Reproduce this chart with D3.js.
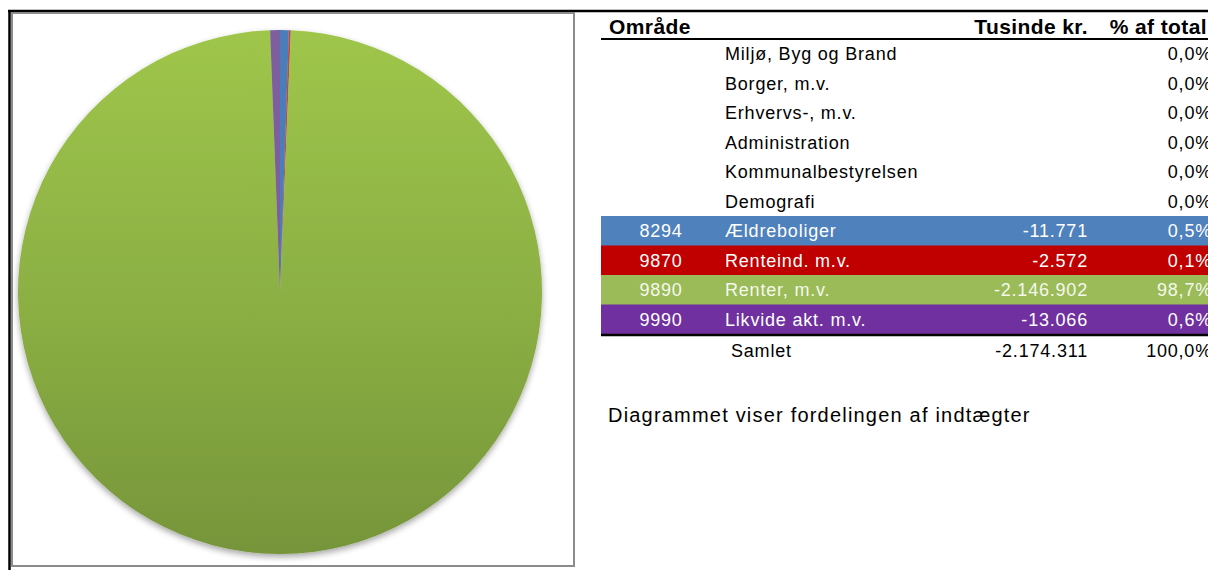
<!DOCTYPE html>
<html>
<head>
<meta charset="utf-8">
<script src="https://cdn.jsdelivr.net/npm/d3@7"></script>
<style>
  body { margin: 0; background: #fff; }
  text { font-family: "Liberation Sans", Arial, sans-serif; }
</style>
</head>
<body>
<div id="chart"></div>
<script>
// data
const codes = ["", "", "", "", "", "", "8294", "9870", "9890", "9990"]
const names = ["Miljø, Byg og Brand", "Borger, m.v.", "Erhvervs-, m.v.", "Administration",
  "Kommunalbestyrelsen", "Demografi", "Ældreboliger", "Renteind. m.v.", "Renter, m.v.", "Likvide akt. m.v."]
const values = [0, 0, 0, 0, 0, 0, -11771, -2572, -2146902, -13066]
const headers = ["Område", "Tusinde kr.", "% af total"]
const totalLabel = "Samlet"
const caption = "Diagrammet viser fordelingen af indtægter"

const rowColors = ["", "", "", "", "", "", "#4f81bd", "#c00000", "#9bbb59", "#7030a0"]
const pieColors = ["", "", "", "", "", "", "#4a7ebb", "#be4b48", "#98b954", "#7d5fa0"]

const width = 1208, height = 570
const locale = d3.formatLocale({ decimal: ",", thousands: ".", grouping: [3], currency: ["", ""], minus: "-" })
const fmtNum = locale.format(",.0f")
const fmtPct = locale.format(".1%")

const total = d3.sum(values)

const svg = d3.select("#chart").append("svg")
  .attr("width", width)
  .attr("height", height)

const defs = svg.append("defs")
const grad = defs.append("linearGradient")
  .attr("id", "greenGrad")
  .attr("x1", 0).attr("y1", 0).attr("x2", 0).attr("y2", 1)
grad.append("stop").attr("offset", "0%").attr("stop-color", "#9fc64b")
grad.append("stop").attr("offset", "55%").attr("stop-color", "#8aae43")
grad.append("stop").attr("offset", "100%").attr("stop-color", "#76953a")

const shadow = defs.append("filter").attr("id", "shadow")
  .attr("x", "-10%").attr("y", "-10%").attr("width", "120%").attr("height", "120%")
shadow.append("feDropShadow")
  .attr("dx", 0).attr("dy", 3).attr("stdDeviation", 3)
  .attr("flood-color", "#000").attr("flood-opacity", 0.35)

// frame lines
svg.append("line").attr("x1", 8).attr("x2", width).attr("y1", 11).attr("y2", 11)
  .attr("stroke", "#000").attr("stroke-width", 2.5)
svg.append("line").attr("x1", 9.5).attr("x2", 9.5).attr("y1", 10).attr("y2", height)
  .attr("stroke", "#000").attr("stroke-width", 2.5)

// chart box
svg.append("rect")
  .attr("x", 12).attr("y", 13).attr("width", 562).attr("height", 553)
  .attr("fill", "#fff").attr("stroke", "#8c8c8c").attr("stroke-width", 2)

// pie
const pieData = values.map((v, i) => ({ v: Math.abs(v), i })).filter(d => d.v > 0)
const pie = d3.pie().sort(null).value(d => d.v)
const arc = d3.arc().innerRadius(0).outerRadius(262)

const pieG = svg.append("g")
  .attr("transform", "translate(280, 292)")
  .attr("filter", "url(#shadow)")

pieG.selectAll("path")
  .data(pie(pieData))
  .enter()
  .append("path")
  .attr("d", arc)
  .attr("fill", d => d.data.i === 8 ? "url(#greenGrad)" : pieColors[d.data.i])

// table
const rows = d3.scaleBand()
  .domain(d3.range(names.length))
  .range([39, 334])

const colCode = 661, colName = 725, colVal = 1088, colPct = 1212
const fs = 18, ls = 0.8

const header = (x, anchor, t) => svg.append("text")
  .attr("x", x).attr("y", 34).attr("text-anchor", anchor)
  .attr("font-size", 21).attr("font-weight", "bold").attr("letter-spacing", 0.4)
  .text(t)
header(609, "start", headers[0])
header(colVal, "end", headers[1])
header(1207, "end", headers[2])

svg.append("line").attr("x1", 601).attr("x2", width).attr("y1", 39).attr("y2", 39)
  .attr("stroke", "#000").attr("stroke-width", 2)

const row = svg.selectAll("g.row")
  .data(names.map((n, i) => ({ name: n, code: codes[i], value: values[i], i })))
  .enter()
  .append("g")
  .attr("class", "row")
  .attr("transform", d => `translate(0, ${rows(d.i)})`)

row.filter(d => rowColors[d.i])
  .append("rect")
  .attr("x", 601).attr("width", width - 601)
  .attr("height", rows.bandwidth() + 0.5)
  .attr("fill", d => rowColors[d.i])

const textFill = d => rowColors[d.i] ? (d.i === 8 ? "#f4f8ec" : "#fff") : "#000"
const baseY = rows.bandwidth() / 2 + 6.5

const cell = (sel, x, anchor, fn) => sel.append("text")
  .attr("x", x).attr("y", baseY).attr("text-anchor", anchor)
  .attr("font-size", fs).attr("letter-spacing", ls).attr("fill", textFill)
  .text(fn)

cell(row, colCode, "middle", d => d.code)
cell(row, colName, "start", d => d.name)
cell(row.filter(d => d.value !== 0), colVal, "end", d => fmtNum(d.value))
cell(row, colPct, "end", d => fmtPct(d.value / total))

// total line + row
svg.append("line").attr("x1", 601).attr("x2", width).attr("y1", 335).attr("y2", 335)
  .attr("stroke", "#000").attr("stroke-width", 2.5)

svg.append("text").attr("x", 731).attr("y", 357)
  .attr("font-size", fs).attr("letter-spacing", ls).text(totalLabel)
svg.append("text").attr("x", colVal).attr("y", 357).attr("text-anchor", "end")
  .attr("font-size", fs).attr("letter-spacing", ls).text(fmtNum(total))
svg.append("text").attr("x", colPct).attr("y", 357).attr("text-anchor", "end")
  .attr("font-size", fs).attr("letter-spacing", ls).text(fmtPct(total / total))

svg.append("text").attr("x", 608).attr("y", 422)
  .attr("font-size", 20).attr("letter-spacing", 1.2).text(caption)
</script>
</body>
</html>
